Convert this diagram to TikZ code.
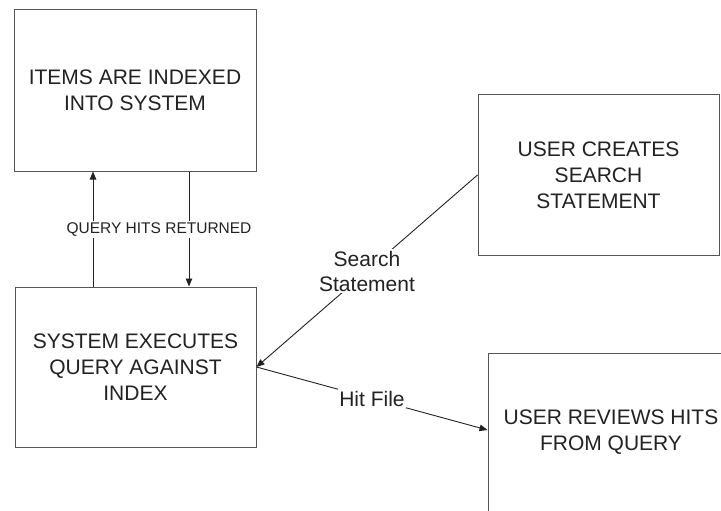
\documentclass[tikz,border=0pt]{standalone}
\usepackage{fontspec}
\setmainfont{Liberation Sans}
\usetikzlibrary{arrows.meta}
\definecolor{ink}{HTML}{222222}
\definecolor{edge}{HTML}{555555}
\tikzset{
  boxnode/.style={draw=edge, line width=1pt, rectangle, align=center, text=ink,
    inner sep=0pt, font=\fontsize{21}{26}\selectfont},
  arr/.style={draw=ink, line width=0.9pt, -{Triangle[length=8pt,width=6.5pt]}},
  lbl/.style={fill=white, text=ink, inner sep=1.5pt, align=center, font=\fontsize{21}{25}\selectfont},
  smalllbl/.style={fill=white, text=ink, inner sep=2pt, font=\fontsize{15.5}{18}\selectfont}
}
\begin{document}
\begin{tikzpicture}[x=1pt,y=-1pt]
\useasboundingbox (0,0) rectangle (721,511);
\clip (0,0) rectangle (721,511);
\fill[white] (0,0) rectangle (721,511);
\node[boxnode, minimum width=242pt, minimum height=161pt] (b1) at (135,90.5) {ITEMS ARE INDEXED\\INTO SYSTEM};
\node[boxnode, minimum width=241pt, minimum height=160pt] (b2) at (135.5,367) {SYSTEM EXECUTES\\QUERY AGAINST\\INDEX};
\node[boxnode, minimum width=241pt, minimum height=160pt] (b3) at (598.5,175) {USER CREATES\\SEARCH\\STATEMENT};
\node[boxnode, minimum width=246pt, minimum height=158pt] (b4) at (611,432) {USER REVIEWS HITS\\FROM QUERY};
\coordinate (ua) at (93,0);
\coordinate (da) at (189,0);
\draw[arr] (b2.north -| ua) -- (b1.south -| ua);
\draw[arr] (b1.south -| da) -- (b2.north -| da);
\node[smalllbl] (q) at (159,229.5) {QUERY HITS RETURNED};
\draw[arr] (b3.west) -- node[lbl] (s) {Search\\Statement} (b2.east);
\draw[arr] (b2.east) -- node[lbl] (h) {Hit File} ([yshift=2pt]b4.west);
\end{tikzpicture}
\end{document}
